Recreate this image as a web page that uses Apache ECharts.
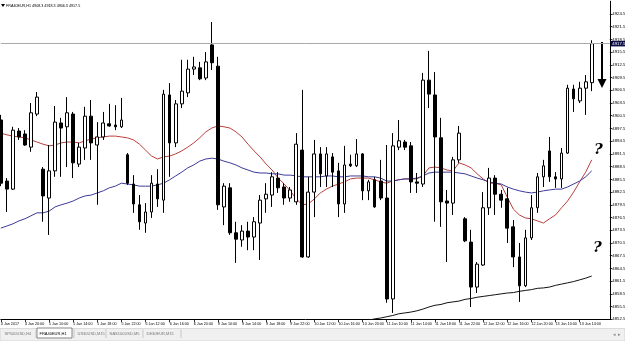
<!DOCTYPE html>
<html><head><meta charset="utf-8">
<script src="https://cdn.jsdelivr.net/npm/echarts@6/dist/echarts.min.js"></script>
<style>html,body{margin:0;padding:0;background:#fff;overflow:hidden}#c{width:625px;height:341px}</style>
</head><body><div id="c"></div>
<script>
// ---- data ----
const symbolName = 'FRA40EUR,H1';
const year = '2017';
const days = ['4 Jan','5 Jan','6 Jan','9 Jan','10 Jan','11 Jan','12 Jan','13 Jan'];
const firstHour = 16, sessionStart = 9, sessionEnd = 22, slotCount = 102;

const open = [4899.5,4885.1,4883.2,4896.9,4896.2,4893.1,4900.9,4887.9,4881.1,4887.5,
4898.8,4897.9,4900.9,4889.1,4892.9,4900.4,4893.6,4895.5,4898.6,4898.3,
4897.9,4891.3,4884.4,4879.5,4875.2,4877.8,4884.4,4880.6,4905.4,4894.1,
4903.3,4905.9,4911.5,4911.8,4909.4,4917.2,4912.2,4879.0,4883.5,4872.9,
4871.2,4873.3,4871.9,4875.2,4880.9,4881.8,4885.8,4883.7,4881.1,4880.2,
4892.4,4867.2,4882.5,4891.5,4886.3,4890.8,4887.5,4879.7,4889.1,4888.7,
4891.5,4882.8,4885.4,4885.1,4881.1,4857.3,4893.1,4894.3,4893.4,4884.9,
4884.4,4908.9,4905.4,4895.3,4880.4,4879.9,4890.1,4876.2,4870.7,4860.1,
4865.3,4878.8,4885.8,4882.0,4880.9,4874.3,4867.2,4860.4,4871.7,4878.8,
4886.1,4892.2,4886.1,4885.6,4891.7,4906.8,4904.0,4907.0,4908.3];
const high = [4900.7,4885.8,4897.9,4897.6,4897.1,4903.5,4906.1,4888.4,4893.6,4902.8,
4900.0,4904.9,4901.4,4894.1,4902.6,4904.2,4899.0,4901.4,4903.3,4903.0,
4904.7,4891.7,4886.5,4881.8,4879.9,4886.5,4887.9,4906.6,4908.2,4904.2,
4913.7,4913.7,4914.4,4913.2,4915.5,4922.6,4914.4,4884.6,4884.6,4875.5,
4874.7,4875.5,4876.6,4881.8,4884.6,4887.2,4887.2,4884.6,4883.7,4896.4,
4906.6,4886.1,4894.8,4893.1,4893.1,4891.7,4889.4,4893.4,4891.3,4895.0,
4891.7,4885.4,4886.1,4890.1,4893.6,4896.4,4899.5,4894.8,4894.3,4887.0,
4910.6,4915.8,4910.8,4900.0,4883.0,4890.8,4898.1,4876.6,4873.6,4866.0,
4882.5,4888.2,4886.5,4883.0,4883.5,4875.9,4870.5,4873.6,4881.8,4887.0,
4890.1,4895.5,4887.2,4892.9,4907.8,4907.8,4908.5,4910.1,4918.3];
const low = [4883.9,4877.8,4883.0,4894.8,4893.4,4892.0,4900.4,4875.5,4872.4,4886.1,
4886.1,4888.4,4885.8,4888.4,4890.1,4890.1,4879.5,4894.8,4897.9,4897.1,
4897.6,4884.2,4877.6,4873.6,4872.9,4876.4,4879.0,4877.6,4886.1,4893.1,
4902.3,4904.9,4910.1,4908.9,4908.9,4911.3,4878.3,4874.7,4872.4,4865.8,
4869.6,4868.8,4868.8,4866.5,4877.6,4879.0,4882.3,4879.5,4880.2,4879.5,
4867.0,4867.0,4876.6,4883.7,4883.7,4883.7,4876.6,4877.6,4888.4,4888.4,
4880.6,4880.6,4878.8,4880.6,4856.4,4854.0,4892.4,4892.4,4882.3,4882.3,
4883.7,4902.3,4875.5,4874.3,4866.0,4877.1,4889.4,4870.7,4855.4,4858.7,
4865.1,4877.1,4877.1,4878.8,4870.5,4864.8,4856.6,4860.1,4871.2,4877.6,
4883.7,4884.9,4883.5,4883.5,4891.5,4901.4,4903.5,4900.7,4906.3];
const close = [4884.6,4883.2,4897.1,4895.5,4893.6,4901.2,4904.9,4881.6,4887.5,4899.0,
4897.6,4901.2,4889.4,4893.1,4900.4,4894.1,4895.5,4898.8,4898.1,4897.9,
4899.5,4884.6,4879.7,4875.5,4877.8,4884.6,4880.9,4905.6,4894.1,4903.3,
4906.3,4911.5,4912.0,4909.2,4913.2,4913.0,4879.5,4883.9,4872.9,4871.4,
4873.3,4871.9,4875.5,4880.6,4882.0,4886.1,4883.5,4881.1,4883.0,4893.8,
4867.2,4882.5,4891.5,4886.8,4891.5,4887.2,4879.7,4888.9,4888.7,4891.5,
4882.8,4884.9,4879.0,4881.1,4857.3,4893.4,4894.6,4893.1,4884.9,4884.6,
4908.9,4905.6,4895.5,4880.2,4879.9,4890.1,4896.4,4871.0,4860.1,4865.5,
4878.8,4885.8,4882.0,4880.6,4874.0,4867.2,4860.4,4871.7,4878.8,4886.1,
4888.7,4886.1,4885.6,4891.7,4907.0,4904.5,4907.0,4908.5,4917.5];

const maFast = [4896.4,4896.0,4895.7,4895.5,4895.3,4894.8,4894.3,4893.8,4893.4,4893.6,
4894.1,4894.3,4894.3,4894.1,4894.6,4895.0,4895.3,4895.5,4895.7,4895.7,
4895.5,4895.3,4894.8,4893.8,4892.4,4891.0,4890.3,4890.8,4891.0,4891.5,
4892.2,4893.1,4894.1,4895.3,4896.7,4897.6,4898.1,4897.9,4897.6,4896.7,
4895.5,4893.8,4892.2,4890.8,4889.1,4887.7,4885.8,4884.4,4882.8,4880.9,
4879.5,4879.7,4880.9,4882.3,4883.2,4883.9,4884.4,4884.9,4885.6,4885.8,
4885.8,4885.8,4885.4,4884.9,4884.6,4885.1,4885.4,4885.6,4885.6,4885.6,
4886.3,4888.2,4888.4,4888.2,4887.7,4887.5,4889.4,4888.9,4888.2,4886.8,
4885.6,4884.6,4884.6,4884.2,4881.3,4878.5,4877.1,4876.4,4876.2,4875.7,
4875.2,4876.2,4877.1,4878.8,4880.4,4882.5,4884.9,4887.2,4890.1];
const maMid = [4874.0,4874.5,4875.0,4875.7,4876.2,4876.9,4877.6,4877.6,4878.0,4879.0,
4879.5,4879.9,4880.4,4881.1,4881.6,4881.8,4882.3,4882.8,4883.5,4883.9,
4884.6,4884.4,4884.2,4883.9,4883.9,4883.9,4884.2,4884.6,4885.4,4886.3,
4887.2,4888.2,4888.9,4889.8,4890.3,4890.5,4890.3,4889.8,4889.4,4888.9,
4888.2,4887.7,4887.2,4887.0,4887.0,4886.8,4886.8,4886.5,4886.5,4886.3,
4886.1,4886.1,4886.1,4886.1,4886.3,4886.3,4886.1,4886.1,4886.3,4886.3,
4886.3,4886.1,4886.1,4885.8,4885.1,4885.1,4885.4,4885.6,4885.6,4885.8,
4886.3,4887.0,4887.2,4887.2,4887.2,4887.2,4887.0,4886.8,4886.3,4885.8,
4885.4,4884.9,4884.6,4884.4,4883.7,4883.2,4882.8,4882.5,4882.3,4882.5,
4882.8,4883.0,4883.2,4883.2,4883.7,4884.4,4885.1,4886.1,4887.5];
const maSlowStart = 59;
const maSlow = [4851.9,4852.1,4852.3,4852.6,4852.8,4853.1,4853.4,4853.8,4854.0,4854.2,
4854.5,4854.9,4855.4,4855.8,4856.0,4856.4,4856.6,4856.8,4857.2,4857.4,
4857.7,4857.9,4858.1,4858.3,4858.5,4858.7,4858.8,4859.1,4859.3,4859.5,
4859.8,4859.9,4860.1,4860.5,4860.8,4861.1,4861.4,4861.8,4862.2,4862.7];

const yMin = 4852.5, yMax = 4927.5, yStep = 3;
const tabs = ['SP500USD,H4','FRA40EUR,H1','US30USD,M15','NAS100USD,M5','DE30EUR,M15'];
const activeTab = 1;

// ---- build ----
const cats = [];
days.forEach((d, di) => {
  for (let h = (di === 0 ? firstHour : sessionStart); h <= sessionEnd && cats.length < slotCount; h++) {
    cats.push(d + ' ' + String(h).padStart(2, '0') + ':00');
  }
});
const lastIdx = close.length - 1;
const candles = open.map((o, i) => [o, close[i], low[i], high[i]]);
const slowData = cats.map((c, i) => (i >= maSlowStart && i - maSlowStart < maSlow.length) ? maSlow[i - maSlowStart] : null);

const FONT = "'Liberation Sans',Arial,sans-serif";
const showTick = (idx) => idx % 4 === 0 && idx <= lastIdx - 2;

const titleText = symbolName + ' ' + [open[lastIdx], high[lastIdx], low[lastIdx], close[lastIdx]].map(v => v.toFixed(1)).join(' ');

// tab positions (UI chrome)
const tabX = [3, 38, 76, 108, 145, 183];
const graphics = [
  { type: 'polygon', shape: { points: [[1, 4], [5, 4], [3, 7]] }, style: { fill: '#000' } },
  { type: 'text', x: 6, y: 5.6, style: { text: titleText, font: '3.7px ' + FONT, fill: '#000', verticalAlign: 'middle' } },
  // annotation arrow
  { type: 'line', shape: { x1: 602, y1: 42, x2: 602, y2: 80 }, style: { stroke: '#000', lineWidth: 2 } },
  { type: 'polygon', shape: { points: [[597.5, 79], [606.5, 79], [602, 88]] }, style: { fill: '#000' } },
  // question marks
  { type: 'text', x: 594, y: 143, style: { text: '?', font: 'italic bold 15px "DejaVu Serif", serif', fill: '#000' } },
  { type: 'text', x: 593, y: 241, style: { text: '?', font: 'italic bold 15px "DejaVu Serif", serif', fill: '#000' } },
  // tab bar
  { type: 'rect', shape: { x: 0, y: 328.5, width: 625, height: 12.5 }, style: { fill: '#f0f0f0', stroke: '#c8c8c8', lineWidth: 0.6 } },
  { type: 'rect', shape: { x: tabX[1] - 1, y: 328, width: tabX[2] - tabX[1] - 3, height: 10 }, style: { fill: '#ffffff', stroke: '#6a6a6a', lineWidth: 0.8 } },
  { type: 'text', x: 617, y: 335, style: { text: '◂ ▸', font: '5px ' + FONT, fill: '#888', verticalAlign: 'middle', align: 'center' } }
];
tabs.forEach((t, i) => {
  graphics.push({ type: 'text', x: tabX[i] + 1.5, y: 333.5, style: { text: t, font: '4px ' + FONT, fill: i === activeTab ? '#000' : '#777', verticalAlign: 'middle' } });
  graphics.push({ type: 'line', shape: { x1: tabX[i + 1] - 2, y1: 329.5, x2: tabX[i + 1] - 2, y2: 338 }, style: { stroke: '#b0b0b0', lineWidth: 0.6 } });
});

const chart = echarts.init(document.getElementById('c'), null, { renderer: 'canvas' });
chart.setOption({
  animation: false,
  backgroundColor: '#ffffff',
  grid: { left: 0.8, right: 15.2, top: 1.25, bottom: 21.7, outerBoundsMode: 'none', containLabel: false },
  xAxis: {
    type: 'category', data: cats, boundaryGap: false,
    axisLine: { show: true, lineStyle: { color: '#000', width: 1 } },
    axisTick: { show: true, interval: showTick, length: 3, lineStyle: { color: '#000', width: 0.8 } },
    axisLabel: {
      interval: showTick, align: 'left', margin: 2.5, fontSize: 3.7, fontFamily: FONT, color: '#000',
      formatter: (v, i) => i === 0 ? v.split(' ').slice(0, 2).join(' ') + ' ' + year : v
    },
    splitLine: { show: false }
  },
  yAxis: {
    type: 'value', position: 'right', min: yMin, max: yMax, interval: yStep, scale: true,
    axisLine: { show: true, lineStyle: { color: '#000', width: 1 } },
    axisTick: { show: true, length: 2.5, lineStyle: { color: '#000', width: 0.8 } },
    axisLabel: { margin: 2.5, fontSize: 4.3, fontFamily: FONT, color: '#000', showMaxLabel: false, formatter: v => v.toFixed(1) },
    splitLine: { show: false }
  },
  series: [
    {
      type: 'candlestick', data: candles, barWidth: 3.2, clip: false, z: 3,
      itemStyle: { color: '#ffffff', color0: '#000000', borderColor: '#000000', borderColor0: '#000000', borderWidth: 1 },
      markLine: {
        silent: true, symbol: 'none', animation: false,
        lineStyle: { color: '#a9a9a9', width: 1, type: 'solid' },
        label: { show: true, position: 'end', distance: 1, formatter: close[lastIdx].toFixed(1), backgroundColor: '#0b0b48', color: '#ffffff', fontSize: 4.3, fontFamily: FONT, padding: [1, 1.5, 0.5, 1.5] },
        data: [{ yAxis: close[lastIdx] }]
      }
    },
    { type: 'line', data: maFast, symbol: 'none', clip: true, z: 2, lineStyle: { color: '#b8403c', width: 1 } },
    { type: 'line', data: maMid, symbol: 'none', clip: true, z: 2, lineStyle: { color: '#3b3b98', width: 1 } },
    { type: 'line', data: slowData, symbol: 'none', clip: true, z: 2, connectNulls: false, lineStyle: { color: '#111111', width: 1 } }
  ],
  graphic: graphics
});
</script>
</body></html>
